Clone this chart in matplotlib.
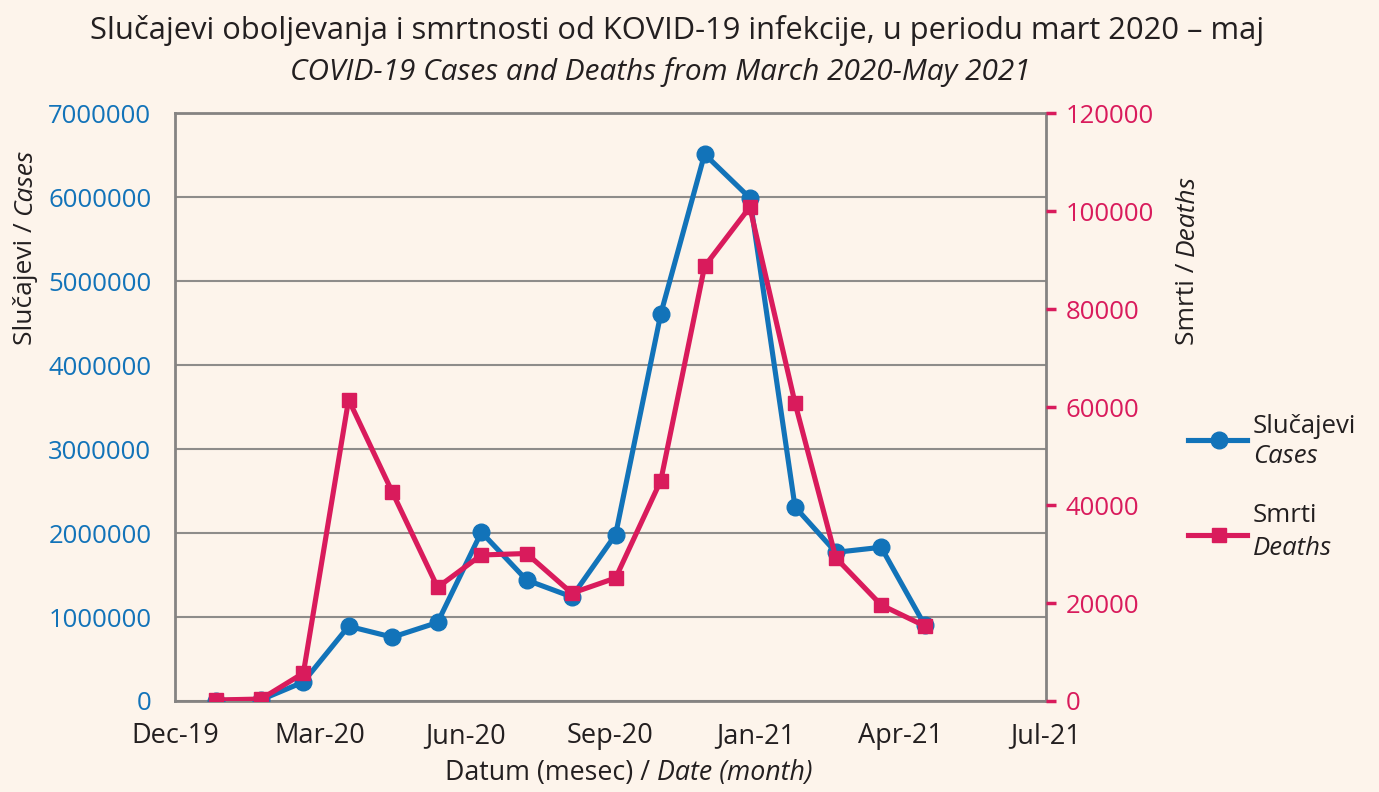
import matplotlib
matplotlib.use("Agg")
import matplotlib.pyplot as plt
import matplotlib.dates as mdates
from matplotlib.lines import Line2D
import numpy as np
import datetime as dt

# Mjesecni podaci (jan 2020 - maj 2021)
months = ["2020-01", "2020-02", "2020-03", "2020-04", "2020-05", "2020-06",
          "2020-07", "2020-08", "2020-09", "2020-10", "2020-11", "2020-12",
          "2021-01", "2021-02", "2021-03", "2021-04", "2021-05"]
cases = [5000, 15000, 226000, 890000, 760000, 935000,
         2010000, 1440000, 1240000, 1980000, 4610000, 6510000,
         5990000, 2310000, 1770000, 1830000, 900000]
deaths = [200, 400, 5700, 61500, 42600, 23200,
          29800, 30100, 22000, 25100, 45000, 88700,
          100800, 60800, 29200, 19600, 15300]

BG = "#fdf4eb"
BLUE = "#1273b9"
PINK = "#d91b5c"
TXT = "#231f20"

plt.rcParams["font.family"] = ["Open Sans", "DejaVu Sans"]

dates = [dt.datetime.strptime(m, "%Y-%m") for m in months]
x = mdates.date2num(dates)

fig = plt.figure(figsize=(13.79, 7.92), dpi=100, facecolor=BG)
ax = fig.add_axes([0.1269, 0.1149, 0.6316, 0.7424])
ax.set_facecolor(BG)

ax.plot(x, cases, color=BLUE, lw=3.7, marker="o", ms=12, zorder=3)
ax.set_ylim(0, 7000000)
ax.set_yticks(np.arange(0, 7000001, 1000000))
ax.yaxis.set_major_formatter(matplotlib.ticker.FuncFormatter(lambda v, p: f"{int(v)}"))
ax.tick_params(axis="y", length=0, pad=17, labelsize=18.5, labelcolor=BLUE)
ax.grid(axis="y", color="#8e8c8a", lw=1.5)
ax.set_axisbelow(True)

# osa x (datumi)
start = mdates.date2num(dt.datetime(2019, 12, 4))
ax.set_xlim(start, start + 597)
xt = start + 99.5 * np.arange(7)
ax.set_xticks(xt)
ax.set_xticklabels([mdates.num2date(v).strftime("%b-%y") for v in xt])
ax.tick_params(axis="x", length=0, pad=15, labelsize=19.5, labelcolor=TXT)

for s in ax.spines.values():
    s.set_color("#858382")
    s.set_linewidth(2)

ax2 = ax.twinx()
ax2.plot(x, deaths, color=PINK, lw=3.7, marker="s", ms=10.5, zorder=3)
ax2.set_ylim(0, 120000)
ax2.set_yticks(np.arange(0, 120001, 20000))
ax2.tick_params(axis="y", length=7, width=2.5, color=PINK, pad=7,
                labelsize=18.5, labelcolor=PINK)
for s in ax2.spines.values():
    s.set_visible(False)

renderer = fig.canvas.get_renderer()


def mixed_text(xc, yc, parts, size, rot=0):
    # tekst sa normalnim i kurzivnim delom, centriran na (xc, yc) u pikselima
    arts = []
    lengths = []
    for s, st in parts:
        t = fig.text(0, 0, s, fontsize=size, style=st, color=TXT,
                     rotation=rot, rotation_mode="anchor", ha="left", va="center")
        bb = t.get_window_extent(renderer)
        lengths.append(bb.height if rot else bb.width)
        arts.append(t)
    sp = fig.text(0, 0, "a a", fontsize=size)
    sp2 = fig.text(0, 0, "aa", fontsize=size)
    space = sp.get_window_extent(renderer).width - sp2.get_window_extent(renderer).width
    sp.remove()
    sp2.remove()
    total = sum(lengths) + space * (len(parts) - 1)
    pos = -total / 2
    W, H = fig.bbox.width, fig.bbox.height
    for t, L in zip(arts, lengths):
        if rot:
            t.set_position((xc / W, 1 - (yc - pos) / H))
        else:
            t.set_position(((xc + pos) / W, 1 - yc / H))
        pos += L + space


# naslovi osa
mixed_text(25, 247, [("Slučajevi /", "normal"), ("Cases", "italic")], 19, rot=90)
mixed_text(1187, 260, [("Smrti /", "normal"), ("Deaths", "italic")], 19, rot=90)
mixed_text(629, 773, [("Datum (mesec) /", "normal"), ("Date (month)", "italic")], 19.3)

# naslov
fig.text(0.491, 0.962, "Slučajevi oboljevanja i smrtnosti od KOVID-19 infekcije, u periodu mart 2020 – maj",
         ha="center", va="center", fontsize=22.2, color=TXT)
fig.text(0.479, 0.909, "COVID-19 Cases and Deaths from March 2020-May 2021",
         ha="center", va="center", fontsize=21.4, style="italic", color=TXT)

# legenda
leg_items = [(BLUE, "o", 12, "Slučajevi", "Cases", 0.4444, 0.461, 0.423),
             (PINK, "s", 10.5, "Smrti", "Deaths", 0.3245, 0.349, 0.307)]
for col, mk, ms, l1, l2, yy, y1, y2 in leg_items:
    fig.add_artist(Line2D([0.8615, 0.9043], [yy, yy], color=col, lw=3.7,
                          transform=fig.transFigure))
    fig.add_artist(Line2D([0.884], [yy], color=col, marker=mk, ms=ms,
                          transform=fig.transFigure))
    fig.text(0.9086, y1, l1, ha="left", va="center", fontsize=18.5, color=TXT)
    fig.text(0.9086, y2, l2, ha="left", va="center", fontsize=18.5,
             style="italic", color=TXT)

fig.savefig("out.png", dpi=100, facecolor=BG)
